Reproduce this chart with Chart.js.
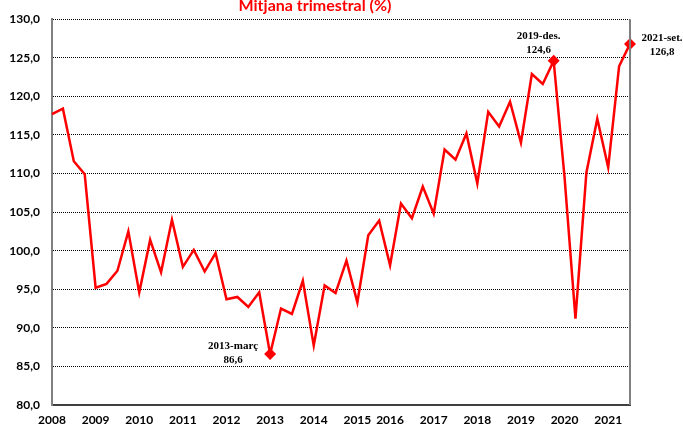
<!DOCTYPE html>
<html>
<head>
<meta charset="utf-8">
<script src="https://cdn.jsdelivr.net/npm/chart.js@4"></script>
<style>
  html, body { margin: 0; padding: 0; background: #fff; }
  #wrap { width: 683px; height: 425px; }
</style>
</head>
<body>
<div id="wrap"><canvas id="chart"></canvas></div>
<script>
// years on the axis and the quarter-end months present in each one (2015 has only 3 quarters)
const years = ['2008','2009','2010','2011','2012','2013','2014','2015','2016','2017','2018','2019','2020','2021'];
const months = ['març','juny','set.','des.'];
const quartersPerYear = [4,4,4,4,4,4,4,3,4,4,4,4,4,3];

// quarterly average (%)
const mitjana = [
  117.7, 118.4, 111.6, 109.9,   // 2008
  95.2, 95.7, 97.4, 102.5,      // 2009
  94.6, 101.4, 97.2, 104.0,     // 2010
  97.9, 100.1, 97.3, 99.7,      // 2011
  93.7, 94.0, 92.7, 94.6,       // 2012
  86.6, 92.5, 91.8, 96.1,       // 2013
  87.7, 95.5, 94.5, 98.7,       // 2014
  93.3, 102.0, 103.9,           // 2015
  98.1, 106.1, 104.2, 108.3,    // 2016
  104.8, 113.1, 111.8, 115.2,   // 2017
  108.7, 118.0, 116.1, 119.3,   // 2018
  114.0, 122.9, 121.6, 124.6,   // 2019
  109.5, 91.2, 110.1, 117.1,    // 2020
  110.8, 123.9, 126.8           // 2021
];

const highlights = ['2013-març', '2019-des.', '2021-set.'];
const yTicks = { min: 80, max: 130, step: 5 };

// build the category labels from the arrays above
const periods = [];
years.forEach((y, i) => {
  for (let q = 0; q < quartersPerYear[i]; q++) periods.push(y + '-' + months[q]);
});

function fmt(v) {
  return v.toFixed(1).replace('.', ',');
}

// where the annotation text sits relative to its point
const labelOffsets = {
  '2013-març': { dx: -37, dy: -8 },
  '2019-des.': { dx: -15, dy: -25 },
  '2021-set.': { dx: 32, dy: -6 }
};

const titlePlugin = {
  id: 'topTitle',
  afterDraw(chart) {
    const ctx = chart.ctx;
    ctx.save();
    ctx.font = 'bold 16px Lato';
    ctx.fillStyle = '#FF0000';
    ctx.textAlign = 'center';
    ctx.textBaseline = 'alphabetic';
    ctx.fillText('Mitjana trimestral (%)', 315, 11);
    ctx.restore();
  }
};

const frameAndNotes = {
  id: 'frameAndNotes',
  afterDatasetsDraw(chart) {
    const ctx = chart.ctx;
    const area = chart.chartArea;
    ctx.save();
    // right frame line
    ctx.strokeStyle = '#808080';
    ctx.lineWidth = 2;
    ctx.beginPath();
    ctx.moveTo(area.right, area.top);
    ctx.lineTo(area.right, area.bottom);
    ctx.stroke();

    // point notes
    const xs = chart.scales.x, ys = chart.scales.y;
    ctx.font = 'bold 11px "Liberation Serif"';
    ctx.fillStyle = '#000';
    ctx.textAlign = 'center';
    ctx.textBaseline = 'middle';
    highlights.forEach(name => {
      const i = periods.indexOf(name);
      const px = xs.getPixelForValue(i);
      const py = ys.getPixelForValue(mitjana[i]);
      const o = labelOffsets[name];
      ctx.fillText(name, px + o.dx, py + o.dy);
      ctx.fillText(fmt(mitjana[i]), px + o.dx, py + o.dy + 14);
    });
    ctx.restore();
  }
};

const ctx = document.getElementById('chart').getContext('2d');
new Chart(ctx, {
  type: 'line',
  data: {
    labels: periods,
    datasets: [{
      data: mitjana,
      borderColor: '#FF0000',
      backgroundColor: '#FF0000',
      borderWidth: 2.5,
      tension: 0,
      fill: false,
      pointStyle: 'rectRot',
      pointRadius: c => highlights.includes(periods[c.dataIndex]) ? 6 : 0,
      pointHoverRadius: 0,
      pointBorderWidth: 0
    }]
  },
  options: {
    responsive: true,
    maintainAspectRatio: false,
    animation: false,
    layout: { padding: { left: 0, right: 53, top: 18, bottom: 0 } },
    plugins: {
      legend: { display: false },
      title: { display: false },
      tooltip: { enabled: false }
    },
    scales: {
      x: {
        offset: false,
        grid: { display: false },
        border: { display: true, color: '#404040', width: 2 },
        ticks: {
          autoSkip: false,
          maxRotation: 0,
          minRotation: 0,
          padding: 0,
          color: '#000',
          font: { family: 'Lato', weight: 'bold', size: 12 },
          callback: function (value, index) {
            const lab = periods[index];
            const y = lab.split('-')[0];
            return (index === 0 || periods[index - 1].split('-')[0] !== y) ? y : '';
          }
        },
        afterFit: s => { s.height = 20; }
      },
      y: {
        min: yTicks.min,
        max: yTicks.max,
        grid: { color: '#000', lineWidth: 1, drawTicks: false },
        border: { display: true, color: '#808080', width: 2, dash: [1, 1] },
        ticks: {
          stepSize: yTicks.step,
          padding: 12,
          color: '#000',
          font: { family: 'Lato', weight: 'bold', size: 12 },
          callback: v => fmt(v)
        },
        afterFit: s => { s.width = 52; }
      }
    }
  },
  plugins: [titlePlugin, frameAndNotes]
});
</script>
</body>
</html>
